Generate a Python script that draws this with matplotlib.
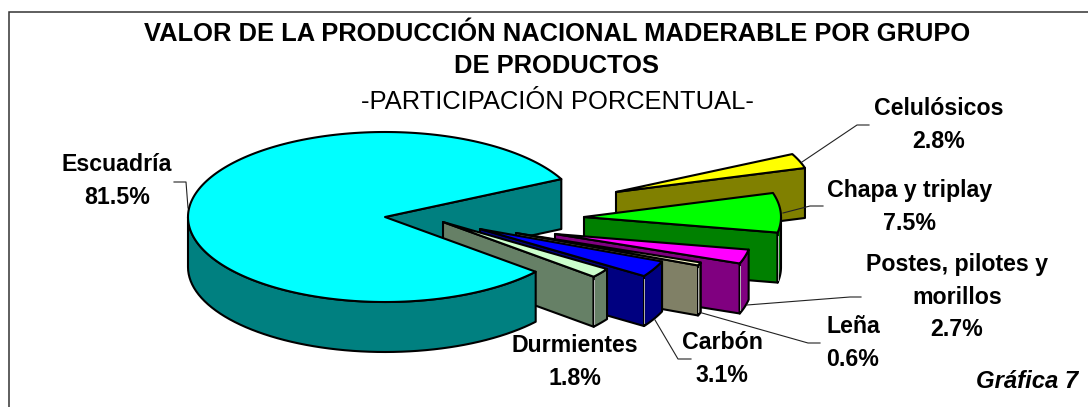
"""exploded 3d pie, valor de la produccion maderable. drawn in pixel coords on one full-figure axes."""
import numpy as np
import matplotlib
matplotlib.use("Agg")
import matplotlib.pyplot as plt
from matplotlib.patches import Polygon, Rectangle

plt.rcParams["font.family"] = ["Liberation Sans", "DejaVu Sans"]

# ---- data ----
names = ["Celulósicos", "Chapa y triplay", "Postes, pilotes y\nmorillos", "Leña", "Carbón", "Durmientes"]
shares = [2.8, 7.5, 2.7, 0.6, 3.1, 1.8]
main_name = "Escuadría"
main_share = 81.5

top_colors = ["#FFFF00", "#00FF00", "#FF00FF", "#FFFFCC", "#0000FF", "#CCFFCC"]
side_colors = ["#808000", "#008000", "#800080", "#808066", "#000080", "#668066"]

# ---- layout (pixels) ----
CX, CY = 385, 217
RX, RY = 197, 85
DEPTH = 50
START = 26.5  # where the first small slice begins, going clockwise
apex_offsets = [(231, -25), (199, 0), (170, 17), (131, 16), (95, 12), (58, 5)]


def arc(cx, cy, a0, a1, n=60):
    t = np.radians(np.linspace(a0, a1, n))
    return np.column_stack([cx + RX * np.cos(t), cy - RY * np.sin(t)])


def face(ax, pts, color, lw=1.5):
    ax.add_patch(Polygon(pts, closed=True, facecolor=color, edgecolor="black", lw=lw, joinstyle="round"))


def down(pts):
    return pts + np.array([0, DEPTH])


def radial_face(ax, cx, cy, ang, color):
    tip = arc(cx, cy, ang, ang, 1)[0]
    p = np.array([[cx, cy], tip])
    face(ax, np.vstack([p, down(p)[::-1]]), color)


def rim(ax, cx, cy, a0, a1, color):
    # only the part below the middle of the ellipse faces the viewer
    a0 = min(a0, 0)
    if a0 <= a1:
        return
    p = arc(cx, cy, a0, a1)
    face(ax, np.vstack([p, down(p)[::-1]]), color)
    # excel leaves a light hairline in the corner between the two faces
    x, y = p[-1]
    ax.plot([x, x], [y + 3, y + DEPTH - 3], color="#D0D0D0", lw=0.6, zorder=3)


fig = plt.figure(figsize=(10.88, 4.07), dpi=100)
ax = fig.add_axes([0, 0, 1, 1])
ax.set_xlim(0, 1088)
ax.set_ylim(407, 0)
ax.axis("off")

# frame runs off the right and bottom of the picture
ax.add_patch(Rectangle((9, 12), 1200, 500, facecolor="white", edgecolor="#333333", lw=1.1))

# main slice spans START .. START + its share, the notch is what remains
main_end = START + main_share * 3.6

# back wall of the notch goes first, the exploded slices sit over it
radial_face(ax, CX, CY, START, "#008080")

a = START
for share, (dx, dy), top, side in zip(shares, apex_offsets, top_colors, side_colors):
    b = a - share * 3.6
    cx, cy = CX + dx, CY + dy
    radial_face(ax, cx, cy, b, side)
    rim(ax, cx, cy, a, b, side)
    face(ax, np.vstack([[cx, cy], arc(cx, cy, a, b, 20)]), top)
    a = b

# main slice front rim and top
p = arc(CX, CY, 180, main_end)
face(ax, np.vstack([p, down(p)[::-1]]), "#008080")
face(ax, np.vstack([[CX, CY], arc(CX, CY, START, main_end, 200)]), "#00FFFF")
for artist in ax.patches[-2:]:
    artist.set_zorder(4)

# ---- text ----
ax.text(557, 34, "VALOR DE LA PRODUCCIÓN NACIONAL MADERABLE POR GRUPO", ha="center", va="center",
        fontsize=18.4, fontweight="bold")
ax.text(557, 66, "DE PRODUCTOS", ha="center", va="center", fontsize=18.4, fontweight="bold")
ax.text(557, 102, "-PARTICIPACIÓN PORCENTUAL-", ha="center", va="center", fontsize=18.4)

label_pos = [(939, 125), (910, 207), (957, 297), (853, 343), (722, 359), (575, 362)]
for name, share, (x, y) in zip(names, shares, label_pos):
    ax.text(x, y, f"{name}\n{share}%", ha="center", va="center", fontsize=16.7, fontweight="bold", linespacing=1.55)
ax.text(117, 181, f"{main_name}\n{main_share}%", ha="center", va="center", fontsize=16.7, fontweight="bold",
        linespacing=1.55)
ax.text(1078, 382, "Gráfica 7", ha="right", va="center", fontsize=17.2, fontweight="bold", style="italic")

# ---- leader lines ----
leaders = [
    ([802, 857, 869], [162, 125, 125]),
    ([783, 810, 823], [213, 206, 206]),
    ([747, 850, 861], [305, 297, 297]),
    ([702, 808, 820], [313, 343, 343]),
    ([655, 678, 691], [320, 359, 359]),
    ([188, 186, 174], [208, 182, 182]),
]
for xs, ys in leaders:
    ax.plot(xs, ys, color="#222222", lw=0.8, zorder=1.5)

fig.savefig("out.png", dpi=100)
